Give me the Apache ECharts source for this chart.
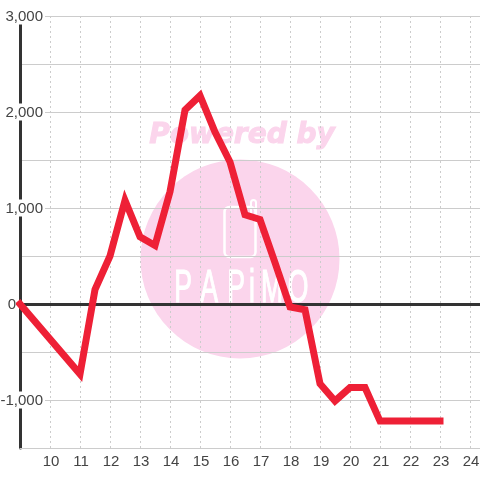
<!DOCTYPE html>
<html>
<head>
<meta charset="utf-8">
<style>
	html, body { margin: 0; padding: 0; background: #fff; }
	#main { width: 480px; height: 480px; }
</style>
<script src="https://cdn.jsdelivr.net/npm/echarts@6/dist/echarts.min.js"></script>
</head>
<body>
<div id="main"></div>
<script>
	// time of day (hours) and balance
	var hours = [9, 11, 11.5, 12, 12.5, 13, 13.5, 14, 14.5, 15, 15.5, 16, 16.5, 17, 17.5, 18, 18.5, 19, 19.5, 20, 20.5, 21, 21.5, 22, 22.5, 23];
	var values = [0, -730, 150, 500, 1080, 700, 610, 1170, 2020, 2170, 1790, 1480, 930, 880, 430, -30, -60, -830, -1010, -870, -870, -1220, -1220, -1220, -1220, -1220];
	var yTicks = [3000, 2000, 1000, 0, -1000];
	var watermarkTitle = 'Powered by';
	var watermarkName = ['P', 'A', 'P', 'i', 'M', 'O'];
	var watermarkNameX = [183, 209, 236, 252, 272, 298];

	var pink = '#fbd5ec';
	var chart = echarts.init(document.getElementById('main'));

	var logo = [
		{ type: 'circle', shape: { cx: 240, cy: 259, r: 99.5 }, style: { fill: pink }, silent: true },
		{ type: 'rect', shape: { x: 224.5, y: 207, width: 31, height: 50, r: 5 }, style: { fill: 'none', stroke: '#fff', lineWidth: 2.5 }, silent: true },
		{ type: 'rect', shape: { x: 251, y: 200, width: 5, height: 20, r: 2.5 }, style: { fill: 'none', stroke: '#fff', lineWidth: 2 }, silent: true },
		{ type: 'text', style: { x: 242, y: 136, text: watermarkTitle, align: 'center', verticalAlign: 'middle', fill: pink, stroke: pink, lineWidth: 1, font: 'italic bold 28px "DejaVu Sans"' }, silent: true }
	];
	watermarkName.forEach(function (letter, i) {
		logo.push({
			type: 'text',
			x: watermarkNameX[i],
			y: 289,
			scaleX: 0.7,
			scaleY: 1.2,
			style: { x: 0, y: 0, text: letter, align: 'center', verticalAlign: 'middle', fill: '#fff', stroke: '#fff', lineWidth: 1, font: '38px "Liberation Sans"' },
			silent: true
		});
	});

	chart.setOption({
		animation: false,
		grid: { left: 20, right: 0, top: 16, bottom: 32, outerBoundsMode: 'none' },
		graphic: { z: -10, elements: logo },
		xAxis: {
			type: 'value',
			min: 9,
			max: 24.333,
			interval: 1,
			axisLine: { onZero: false, lineStyle: { color: '#ccc', width: 1 } },
			axisTick: { show: false },
			axisLabel: {
				margin: 6,
				color: '#444',
				fontSize: 15,
				fontFamily: 'Liberation Sans',
				showMinLabel: false,
				hideOverlap: false,
				padding: [0, 0, 0, 2],
				formatter: function (v) { return v === Math.round(v) ? String(v) : ''; }
			},
			splitLine: { show: true, lineStyle: { color: '#ccc', type: [2, 3], width: 1 } }
		},
		yAxis: {
			type: 'value',
			min: -1500,
			max: 3000,
			interval: 500,
			axisLine: { show: true, lineStyle: { color: '#333', width: 3 } },
			axisTick: { show: false },
			axisLabel: {
				margin: -25,
				color: '#444',
				fontSize: 15,
				fontFamily: 'Liberation Sans',
				hideOverlap: false,
				rich: {
					num: { color: '#444', fontSize: 15, fontFamily: 'Liberation Sans', backgroundColor: '#fff', padding: [2, 2, 0, 2] },
					zero: { color: '#444', fontSize: 15, fontFamily: 'Liberation Sans', padding: [2, 29, 0, 0] }
				},
				formatter: function (v) {
					if (v === 0) return '{zero|0}';
					return yTicks.indexOf(v) >= 0 ? '{num|' + echarts.format.addCommas(v) + '}' : '';
				}
			},
			splitLine: { show: true, lineStyle: { color: '#ccc', width: 1 } }
		},
		series: [{
			type: 'line',
			data: hours.map(function (h, i) { return [h, values[i]]; }),
			symbol: 'none',
			lineStyle: { color: '#ee2036', width: 7, cap: 'square', join: 'miter' },
			markLine: {
				silent: true,
				symbol: 'none',
				label: { show: false },
				z: 1,
				lineStyle: { color: '#333', width: 3, type: 'solid' },
				data: [{ yAxis: 0 }]
			}
		}]
	});
</script>
</body>
</html>
